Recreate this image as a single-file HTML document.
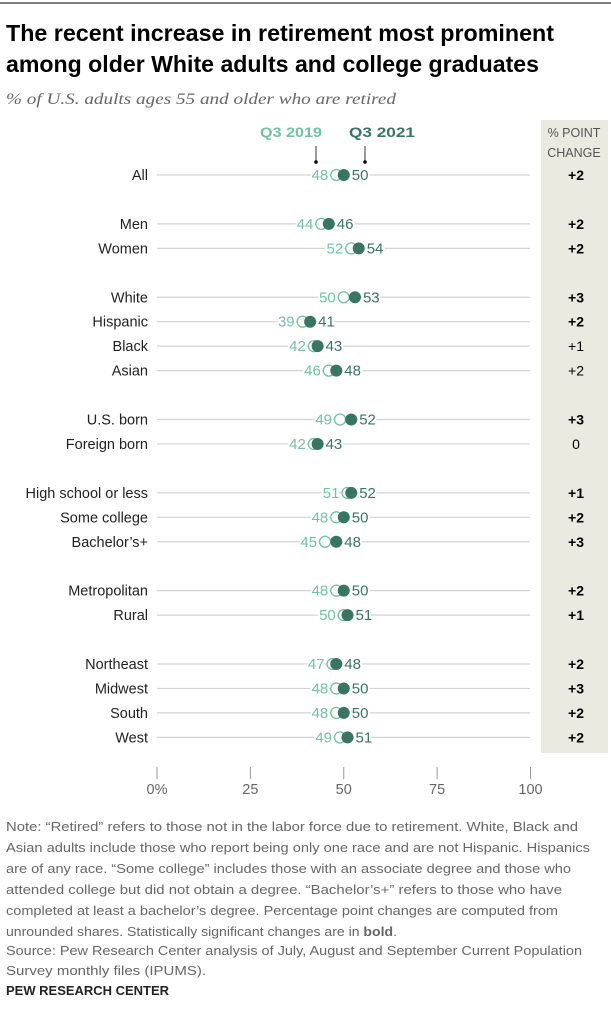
<!DOCTYPE html>
<html><head><meta charset="utf-8"><style>
body{margin:0;background:#fff;width:611px;height:1024px;overflow:hidden}
svg{display:block;font-family:"Liberation Sans",sans-serif}
</style></head><body>
<svg id="chart" width="611" height="1024" viewBox="0 0 611 1024">
<line x1="0" y1="3" x2="611" y2="3" stroke="#555" stroke-width="1.5"/>
<text x="6" y="41" font-size="23" font-weight="bold" fill="#000" textLength="548" lengthAdjust="spacingAndGlyphs">The recent increase in retirement most prominent</text>
<text x="6" y="72" font-size="23" font-weight="bold" fill="#000" textLength="533" lengthAdjust="spacingAndGlyphs">among older White adults and college graduates</text>
<text x="6" y="104" font-size="16" font-style="italic" fill="#666" font-family="Liberation Serif,serif" textLength="390" lengthAdjust="spacingAndGlyphs">% of U.S. adults ages 55 and older who are retired</text>
<rect x="541" y="120" width="67" height="633" fill="#ebeae0"/>
<text x="574" y="137" font-size="12.5" fill="#555" text-anchor="middle">% POINT</text>
<text x="574" y="157" font-size="12.5" fill="#555" text-anchor="middle">CHANGE</text>
<text x="291" y="137" font-size="14" font-weight="bold" fill="#6fc3a0" text-anchor="middle" textLength="62" lengthAdjust="spacingAndGlyphs">Q3 2019</text>
<text x="382" y="137" font-size="14" font-weight="bold" fill="#3a7463" text-anchor="middle" textLength="66" lengthAdjust="spacingAndGlyphs">Q3 2021</text>
<line x1="316" y1="146" x2="316" y2="161" stroke="#333"/>
<circle cx="316" cy="162" r="1.8" fill="#000"/>
<line x1="365" y1="146" x2="365" y2="161" stroke="#333"/>
<circle cx="365" cy="162" r="1.8" fill="#000"/>
<g id="rows"></g>
<g id="axis"></g>
<g font-size="13" fill="#666">
<text x="6" y="831" textLength="572" lengthAdjust="spacingAndGlyphs">Note: “Retired” refers to those not in the labor force due to retirement. White, Black and</text>
<text x="6" y="852" textLength="584" lengthAdjust="spacingAndGlyphs">Asian adults include those who report being only one race and are not Hispanic. Hispanics</text>
<text x="6" y="873" textLength="565" lengthAdjust="spacingAndGlyphs">are of any race. “Some college” includes those with an associate degree and those who</text>
<text x="6" y="894" textLength="556" lengthAdjust="spacingAndGlyphs">attended college but did not obtain a degree. “Bachelor’s+” refers to those who have</text>
<text x="6" y="915" textLength="552" lengthAdjust="spacingAndGlyphs">completed at least a bachelor’s degree. Percentage point changes are computed from</text>
<text x="6" y="936" textLength="391" lengthAdjust="spacingAndGlyphs">unrounded shares. Statistically significant changes are in <tspan font-weight="bold">bold</tspan>.</text>
<text x="6" y="955" textLength="576" lengthAdjust="spacingAndGlyphs">Source: Pew Research Center analysis of July, August and September Current Population</text>
<text x="6" y="975" textLength="200" lengthAdjust="spacingAndGlyphs">Survey monthly files (IPUMS).</text>
</g>
<text x="6" y="995" font-size="12.5" font-weight="bold" fill="#222" textLength="163" lengthAdjust="spacingAndGlyphs">PEW RESEARCH CENTER</text>
</svg>
<script>
const categories=["All","Men","Women","White","Hispanic","Black","Asian","U.S. born","Foreign born","High school or less","Some college","Bachelor’s+","Metropolitan","Rural","Northeast","Midwest","South","West"];
const groups=[0,1,1,2,2,2,2,3,3,4,4,4,5,5,6,6,6,6];
const q2019=[48,44,52,50,39,42,46,49,42,51,48,45,48,50,47,48,48,49];
const q2021=[50,46,54,53,41,43,48,52,43,52,50,48,50,51,48,50,50,51];
const changes=["+2","+2","+2","+3","+2","+1","+2","+3","0","+1","+2","+3","+2","+1","+2","+3","+2","+2"];
const significant=[1,1,1,1,1,0,0,1,0,1,1,1,1,1,1,1,1,1];
const ticks=[0,25,50,75,100];
const tickLabels=["0%","25","50","75","100"];
const NS="http://www.w3.org/2000/svg";
const x=v=>157+v*3.735;
function yRow(i){return 175+(i+groups[i])*24.45;}
function el(tag,attrs,parent,text){const e=document.createElementNS(NS,tag);for(const k in attrs)e.setAttribute(k,attrs[k]);if(text!=null)e.textContent=text;parent.appendChild(e);return e;}
const rows=document.getElementById('rows');
categories.forEach((c,i)=>{
  const y=yRow(i);
  const line=el('line',{x1:157,x2:530,y1:y,y2:y,stroke:'#d3d3d3','stroke-width':1.2},rows);
  
  
  const lab=el('text',{x:148,y:y+5,'font-size':14.5,fill:'#222','text-anchor':'end'},rows,c);
  
  
  const a=x(q2019[i]),b=x(q2021[i]);
  const la=el('text',{x:a-8,y:y+5,'font-size':15,fill:'#6fc3a0','text-anchor':'end',stroke:'#fff','stroke-width':4,'paint-order':'stroke'},rows,q2019[i]);
  
  
  const lb=el('text',{x:b+8,y:y+5,'font-size':15,fill:'#3a7463','text-anchor':'start',stroke:'#fff','stroke-width':4,'paint-order':'stroke'},rows,q2021[i]);
  
  
  const ca=el('circle',{cx:a,cy:y,r:5.5,fill:'#fff',stroke:'#6fc3a0','stroke-width':1.3},rows);
  
  
  const cb=el('circle',{cx:b,cy:y,r:6,fill:'#3a7463'},rows);
  
  
  const ch=el('text',{x:576,y:y+5,'font-size':14,fill:'#000','text-anchor':'middle','font-weight':significant[i]?'bold':'normal'},rows,changes[i]);
  
  
});
const axis=document.getElementById('axis');
ticks.forEach((t,i)=>{
  const tk=el('line',{x1:x(t),x2:x(t),y1:767,y2:779,stroke:'#999'},axis);
  
  
  const tl=el('text',{x:x(t),y:794,'font-size':14.5,fill:'#666','text-anchor':'middle'},axis,tickLabels[i]);
  
  
});
</script>
</body></html>
